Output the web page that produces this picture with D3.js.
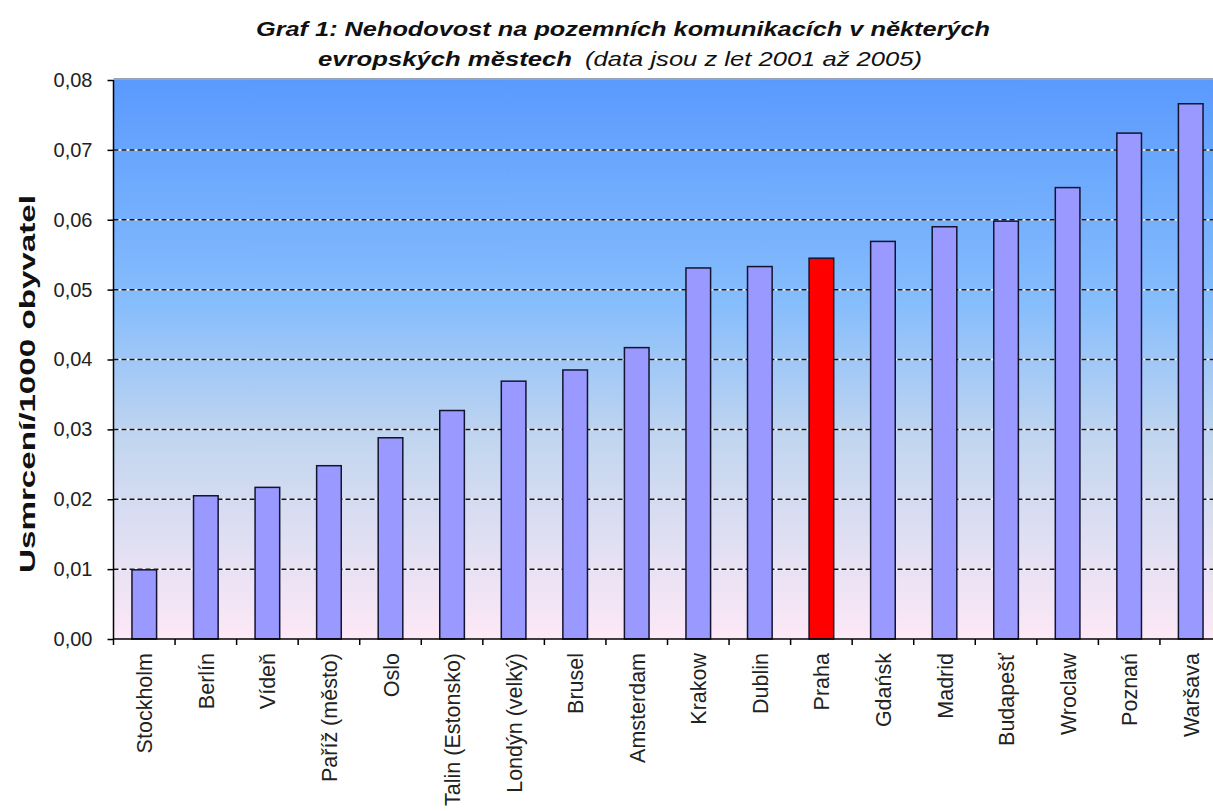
<!DOCTYPE html>
<html>
<head>
<meta charset="utf-8">
<script src="https://cdn.jsdelivr.net/npm/d3@7"></script>
<style>
  body { margin: 0; background: #fff; }
  svg { display: block; font-family: "Liberation Sans", Arial, sans-serif; }
</style>
</head>
<body>
<svg id="chart" width="1213" height="811"></svg>
<script>
// cities, sorted by value
var cities = ["Stockholm", "Berlín", "Vídeň", "Paříž (město)", "Oslo", "Talin (Estonsko)", "Londýn (velký)", "Brusel", "Amsterdam",
  "Krakow", "Dublin", "Praha", "Gdańsk", "Madrid", "Budapešť", "Wroclaw", "Poznań", "Waršava"];
var deaths = [0.0099, 0.0205, 0.0217, 0.0248, 0.0288, 0.0327, 0.0369, 0.0385, 0.0417,
  0.0531, 0.0533, 0.0545, 0.0569, 0.0590, 0.0598, 0.0646, 0.0724, 0.0766];
var highlight = "Praha";
var yTicks = [0, 0.01, 0.02, 0.03, 0.04, 0.05, 0.06, 0.07, 0.08];

var margin = {left: 113.5, top: 80, bottom: 639};
var plotRight = 1221.5;

var svg = d3.select("#chart");

var x = d3.scaleBand()
  .domain(cities)
  .range([margin.left, plotRight])
  .paddingInner(0.6)
  .paddingOuter(0.3);

var y = d3.scaleLinear()
  .domain([0, 0.08])
  .range([margin.bottom, margin.top]);

// background gradient
var defs = svg.append("defs");
var grad = defs.append("linearGradient")
  .attr("id", "bg")
  .attr("x1", 0).attr("y1", 0).attr("x2", 0).attr("y2", 1);
grad.append("stop").attr("offset", "0%").attr("stop-color", "#5a9afe");
grad.append("stop").attr("offset", "40%").attr("stop-color", "#86bdfc");
grad.append("stop").attr("offset", "65%").attr("stop-color", "#c3d6ef");
grad.append("stop").attr("offset", "100%").attr("stop-color", "#fde8f6");

svg.append("rect")
  .attr("x", margin.left)
  .attr("y", margin.top)
  .attr("width", plotRight - margin.left)
  .attr("height", margin.bottom - margin.top)
  .style("fill", "url(#bg)");

svg.append("line")
  .attr("x1", margin.left).attr("x2", plotRight)
  .attr("y1", margin.top - 1).attr("y2", margin.top - 1)
  .style("stroke", "#9aa4b8").style("stroke-width", 2);

// gridlines: white under, black dashes on top
var grid = svg.append("g");
yTicks.filter(function(d) { return d > 0 && d < 0.08; }).forEach(function(t) {
  grid.append("line")
    .attr("x1", margin.left).attr("x2", plotRight)
    .attr("y1", y(t)).attr("y2", y(t))
    .style("stroke", "#ffffff").style("stroke-width", 1.5);
  grid.append("line")
    .attr("x1", margin.left).attr("x2", plotRight)
    .attr("y1", y(t)).attr("y2", y(t))
    .style("stroke", "#111").style("stroke-width", 1.5)
    .style("stroke-dasharray", "5,3");
});

// bars
svg.append("g").selectAll("rect")
  .data(cities)
  .enter().append("rect")
  .attr("x", function(d) { return x(d); })
  .attr("y", function(d, i) { return y(deaths[i]); })
  .attr("width", x.bandwidth())
  .attr("height", function(d, i) { return y(0) - y(deaths[i]); })
  .style("fill", function(d) { return d == highlight ? "#ff0000" : "#9999ff"; })
  .style("stroke", "#141430")
  .style("stroke-width", 1.5);

// y axis
var yAxis = d3.axisLeft(y)
  .tickValues(yTicks)
  .tickSize(6)
  .tickPadding(15)
  .tickFormat(function(d) { return d3.format(".2f")(d).replace(".", ","); });

var gy = svg.append("g")
  .attr("transform", "translate(" + margin.left + ",0)")
  .call(yAxis);
gy.select(".domain").style("stroke", "#000").style("stroke-width", 1.5).attr("d", "M0," + margin.bottom + "V" + margin.top);
gy.selectAll(".tick line").style("stroke", "#000").style("stroke-width", 1.5);
gy.selectAll(".tick text")
  .style("font-size", "20px")
  .style("fill", "#222")
  .style("font-family", "Liberation Sans, Arial, sans-serif");

// x axis: ticks at category boundaries
var bounds = d3.range(cities.length + 1).map(function(i) {
  return margin.left + i * (plotRight - margin.left) / cities.length;
});
var gx = svg.append("g");
gx.append("line")
  .attr("x1", margin.left).attr("x2", plotRight)
  .attr("y1", margin.bottom).attr("y2", margin.bottom)
  .style("stroke", "#000").style("stroke-width", 1.5);
gx.selectAll("line.tk")
  .data(bounds)
  .enter().append("line")
  .attr("class", "tk")
  .attr("x1", function(d) { return d; }).attr("x2", function(d) { return d; })
  .attr("y1", margin.bottom).attr("y2", margin.bottom + 6)
  .style("stroke", "#000").style("stroke-width", 1.5);

gx.selectAll("text")
  .data(cities)
  .enter().append("text")
  .attr("transform", function(d) {
    return "translate(" + (x(d) + x.bandwidth() / 2 + 8) + "," + (margin.bottom + 14) + ") rotate(-90)";
  })
  .attr("text-anchor", "end")
  .style("font-size", "21.5px")
  .style("fill", "#222")
  .text(function(d) { return d; });

// y title
svg.append("text")
  .attr("transform", "translate(35,384) rotate(-90)")
  .attr("text-anchor", "middle")
  .attr("textLength", 378)
  .attr("lengthAdjust", "spacingAndGlyphs")
  .style("font-size", "22px")
  .style("font-weight", "bold")
  .style("fill", "#111")
  .text("Usmrcení/1000 obyvatel");

// title
svg.append("text")
  .attr("x", 256).attr("y", 36)
  .attr("textLength", 734)
  .attr("lengthAdjust", "spacingAndGlyphs")
  .style("font-size", "21px")
  .style("font-weight", "bold")
  .style("font-style", "italic")
  .style("fill", "#111")
  .text("Graf 1: Nehodovost na pozemních komunikacích v některých");

var t2 = svg.append("text")
  .attr("x", 318).attr("y", 66)
  .style("font-size", "21px")
  .style("fill", "#111");
t2.append("tspan")
  .style("font-weight", "bold")
  .style("font-style", "italic")
  .attr("textLength", 254)
  .attr("lengthAdjust", "spacingAndGlyphs")
  .text("evropských městech");
t2.append("tspan")
  .attr("x", 585)
  .style("font-style", "italic")
  .attr("textLength", 337)
  .attr("lengthAdjust", "spacingAndGlyphs")
  .text("(data jsou z let 2001 až 2005)");
</script>
</body>
</html>
